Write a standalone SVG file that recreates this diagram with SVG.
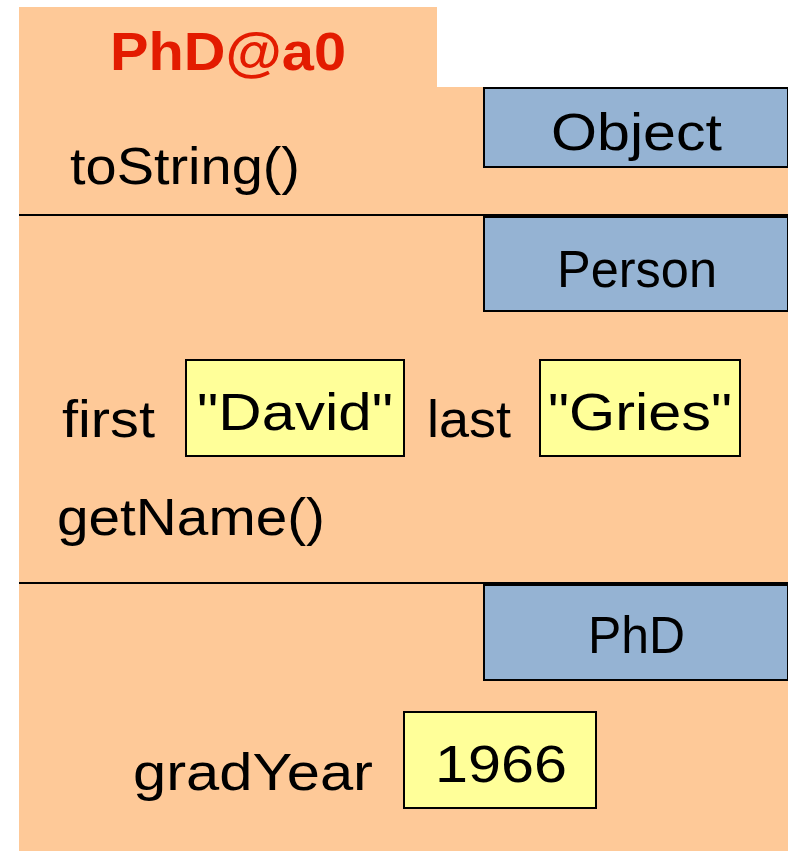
<svg xmlns="http://www.w3.org/2000/svg" width="788" height="851" viewBox="0 0 788 851">
  <style>
    .obj { fill: #FEC998; }
    .cls { fill: #95B3D3; stroke: #000; stroke-width: 2; }
    .val { fill: #FFFF99; stroke: #000; stroke-width: 2; }
    .sep { stroke: #000; stroke-width: 2; }
    text { font-family: "Liberation Sans", Arial, sans-serif; font-size: 52px; fill: #000; }
    .name { font-weight: bold; fill: #E31B00; font-size: 54px; }
  </style>

  <!-- object body with name tab -->
  <g id="object">
    <path class="obj" d="M19 7 H437 V87 H788 V851 H19 Z"/>
    <text class="name" x="110" y="70" textLength="236" lengthAdjust="spacingAndGlyphs">PhD@a0</text>
  </g>

  <!-- partition separators -->
  <g id="separators">
    <line class="sep" x1="19" y1="215" x2="788" y2="215"/>
    <line class="sep" x1="19" y1="583" x2="788" y2="583"/>
  </g>

  <!-- Object partition -->
  <g id="part-object">
    <rect class="cls" x="484" y="88" width="304" height="79"/>
    <text x="551" y="150" textLength="171" lengthAdjust="spacingAndGlyphs">Object</text>
    <text x="70" y="184" textLength="230" lengthAdjust="spacingAndGlyphs">toString()</text>
  </g>

  <!-- Person partition -->
  <g id="part-person">
    <rect class="cls" x="484" y="217" width="304" height="94"/>
    <text x="557" y="287" textLength="160" lengthAdjust="spacingAndGlyphs">Person</text>
    <text x="62" y="437" textLength="93" lengthAdjust="spacingAndGlyphs">first</text>
    <rect class="val" x="186" y="360" width="218" height="96"/>
    <text x="197" y="430" textLength="196" lengthAdjust="spacingAndGlyphs">"David"</text>
    <text x="427" y="437" textLength="84" lengthAdjust="spacingAndGlyphs">last</text>
    <rect class="val" x="540" y="360" width="200" height="96"/>
    <text x="548" y="430" textLength="184" lengthAdjust="spacingAndGlyphs">"Gries"</text>
    <text x="57" y="535" textLength="268" lengthAdjust="spacingAndGlyphs">getName()</text>
  </g>

  <!-- PhD partition -->
  <g id="part-phd">
    <rect class="cls" x="484" y="585" width="304" height="95"/>
    <text x="588" y="653" textLength="97" lengthAdjust="spacingAndGlyphs">PhD</text>
    <text x="133" y="790" textLength="240" lengthAdjust="spacingAndGlyphs">gradYear</text>
    <rect class="val" x="404" y="712" width="192" height="96"/>
    <text x="435" y="782" textLength="132" lengthAdjust="spacingAndGlyphs">1966</text>
  </g>
</svg>
